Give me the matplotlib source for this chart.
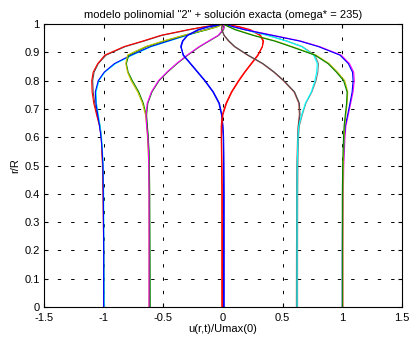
import matplotlib
matplotlib.use("Agg")
import matplotlib.pyplot as plt

plt.rcParams['font.family'] = ['Liberation Sans', 'DejaVu Sans']
plt.rcParams['axes.unicode_minus'] = False
plt.rcParams['lines.scale_dashes'] = False

# radial positions r/R shared by all profiles
r = [0, 0.2, 0.4, 0.5, 0.55, 0.6, 0.64, 0.68, 0.72, 0.76,
     0.8, 0.83, 0.86, 0.89, 0.92, 0.94, 0.96, 0.98, 0.99, 1.0]

# profiles: (polynomial model, exact solution)
u_s1_poly = [-1.0, -1.0, -1.005, -1.01, -1.015, -1.02, -1.035, -1.06, -1.083, -1.097,
             -1.10, -1.088, -1.05, -0.99, -0.83, -0.67, -0.52, -0.29, -0.16, 0.0]
u_s1_exact = [-0.995, -1.0, -1.003, -1.008, -1.013, -1.02, -1.03, -1.055, -1.075, -1.088,
              -1.092, -1.08, -1.045, -0.98, -0.82, -0.66, -0.51, -0.28, -0.15, 0.0]
u_s2_poly = [-1.0, -1.0, -1.003, -1.006, -1.012, -1.022, -1.035, -1.05, -1.065, -1.07,
             -1.045, -0.995, -0.91, -0.77, -0.61, -0.46, -0.31, -0.15, -0.07, 0.0]
u_s2_exact = [-0.995, -0.998, -1.0, -1.004, -1.01, -1.018, -1.03, -1.045, -1.06, -1.063,
              -1.04, -0.99, -0.90, -0.76, -0.60, -0.45, -0.30, -0.14, -0.07, 0.0]
u_s3_poly = [-0.62, -0.62, -0.62, -0.622, -0.627, -0.633, -0.64, -0.65, -0.675, -0.715,
             -0.77, -0.80, -0.815, -0.80, -0.65, -0.50, -0.33, -0.14, -0.05, 0.0]
u_s3_exact = [-0.61, -0.612, -0.614, -0.617, -0.62, -0.626, -0.634, -0.645, -0.668, -0.706,
              -0.76, -0.795, -0.81, -0.79, -0.64, -0.49, -0.32, -0.13, -0.05, 0.0]
u_s4_poly = [-0.62, -0.62, -0.62, -0.622, -0.625, -0.63, -0.64, -0.645, -0.635, -0.60,
             -0.54, -0.47, -0.39, -0.30, -0.20, -0.12, -0.04, 0.0, 0.01, 0.0]
u_s4_exact = [-0.615, -0.615, -0.617, -0.62, -0.622, -0.628, -0.636, -0.64, -0.63, -0.595,
              -0.535, -0.465, -0.385, -0.295, -0.195, -0.115, -0.035, 0.005, 0.01, 0.0]
u_s5_poly = [0.01, 0.01, 0.01, 0.008, 0.007, 0.005, 0.0, -0.01, -0.03, -0.08,
             -0.15, -0.21, -0.27, -0.33, -0.355, -0.34, -0.30, -0.21, -0.13, 0.0]
u_s5_exact = [0.005, 0.005, 0.005, 0.005, 0.004, 0.002, -0.003, -0.013, -0.035, -0.085,
              -0.155, -0.215, -0.275, -0.335, -0.35, -0.335, -0.295, -0.2, -0.12, 0.0]
u_s6_poly = [-0.01, -0.01, -0.01, -0.012, -0.013, -0.015, -0.015, -0.005, 0.025, 0.07,
             0.13, 0.18, 0.235, 0.29, 0.33, 0.34, 0.315, 0.23, 0.14, 0.0]
u_s6_exact = [-0.005, -0.005, -0.006, -0.008, -0.01, -0.012, -0.01, 0.0, 0.03, 0.075,
              0.135, 0.185, 0.24, 0.295, 0.33, 0.335, 0.31, 0.22, 0.13, 0.0]
u_s7_poly = [0.62, 0.62, 0.62, 0.622, 0.625, 0.628, 0.632, 0.645, 0.64, 0.60,
             0.51, 0.43, 0.335, 0.21, 0.10, 0.05, 0.01, -0.01, -0.01, 0.0]
u_s7_exact = [0.615, 0.616, 0.618, 0.62, 0.622, 0.625, 0.63, 0.64, 0.635, 0.595,
              0.505, 0.425, 0.33, 0.205, 0.095, 0.045, 0.008, -0.01, -0.01, 0.0]
u_s8_poly = [0.62, 0.62, 0.62, 0.622, 0.625, 0.628, 0.635, 0.66, 0.69, 0.74,
             0.77, 0.785, 0.79, 0.76, 0.66, 0.53, 0.37, 0.18, 0.08, 0.0]
u_s8_exact = [0.625, 0.625, 0.626, 0.628, 0.63, 0.633, 0.64, 0.665, 0.695, 0.745,
              0.78, 0.795, 0.80, 0.77, 0.665, 0.535, 0.375, 0.185, 0.085, 0.0]
u_s9_poly = [1.0, 1.0, 1.003, 1.008, 1.012, 1.017, 1.025, 1.045, 1.064, 1.082,
             1.09, 1.085, 1.05, 0.98, 0.80, 0.64, 0.41, 0.18, 0.09, 0.0]
u_s9_exact = [1.005, 1.005, 1.008, 1.012, 1.017, 1.022, 1.03, 1.05, 1.07, 1.09,
              1.10, 1.095, 1.06, 0.99, 0.81, 0.65, 0.42, 0.19, 0.09, 0.0]
u_s10_poly = [1.0, 1.0, 1.0, 1.003, 1.006, 1.01, 1.015, 1.025, 1.036, 1.04,
              1.01, 0.95, 0.88, 0.77, 0.57, 0.43, 0.25, 0.10, 0.05, 0.0]
u_s10_exact = [1.005, 1.005, 1.006, 1.008, 1.011, 1.015, 1.02, 1.03, 1.04, 1.045,
               1.02, 0.96, 0.89, 0.78, 0.58, 0.44, 0.26, 0.11, 0.05, 0.0]

profiles = [
    (u_s1_poly, u_s1_exact, 'red', '#4d4d4d'),
    (u_s2_poly, u_s2_exact, 'blue', 'cyan'),
    (u_s3_poly, u_s3_exact, '#bfbf00', 'green'),
    (u_s4_poly, u_s4_exact, 'magenta', 'green'),
    (u_s5_poly, u_s5_exact, 'blue', 'blue'),
    (u_s6_poly, u_s6_exact, 'red', 'red'),
    (u_s7_poly, u_s7_exact, '#4d4d4d', '#c04040'),
    (u_s8_poly, u_s8_exact, 'cyan', 'gray'),
    (u_s9_poly, u_s9_exact, 'blue', 'magenta'),
    (u_s10_poly, u_s10_exact, 'green', '#bfbf00'),
]

fig = plt.figure(figsize=(4.12, 3.42), dpi=100)
ax = fig.add_axes([44 / 412, 35 / 342, 358 / 412, 283 / 342])

for u_poly, u_exact, c_poly, c_exact in profiles:
    ax.plot(u_exact, r, color=c_exact, linewidth=0.8)
    ax.plot(u_poly, r, color=c_poly, linewidth=0.8)

ax.set_xlim(-1.5, 1.5)
ax.set_ylim(0, 1)
ax.set_xticks([-1.5, -1, -0.5, 0, 0.5, 1, 1.5])
ax.set_xticklabels(['-1.5', '-1', '-0.5', '0', '0.5', '1', '1.5'])
ax.set_yticks([i / 10 for i in range(11)])
ax.set_yticklabels(['0', '0.1', '0.2', '0.3', '0.4', '0.5', '0.6', '0.7', '0.8', '0.9', '1'])

ax.grid(True, color='black', linestyle=(0, (2.4, 7.2)), linewidth=0.7)
ax.tick_params(direction='in', top=True, right=True, length=3,
               labelsize=8)
ax.tick_params(axis='x', pad=4)
ax.tick_params(axis='y', pad=3)
for spine in ax.spines.values():
    spine.set_linewidth(0.8)

ax.set_title('modelo polinomial "2" + solución exacta (omega* = 235)',
             fontsize=8, pad=4)
ax.set_xlabel('u(r,t)/Umax(0)', fontsize=8, labelpad=1)
ax.set_ylabel('r/R', fontsize=8, labelpad=3)

fig.savefig('out.png', dpi=100)
plt.close(fig)
